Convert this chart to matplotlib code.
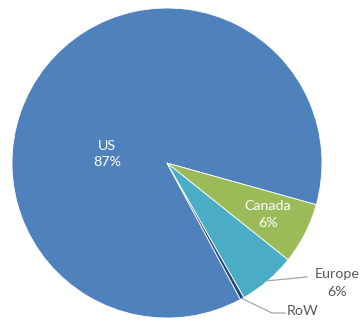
import numpy as np
from matplotlib import pyplot as plt

regions = ["US", "Canada", "Europe", "RoW"]
shares = [87.2, 6.4, 6.0, 0.4]
pct_labels = ["87%", "6%", "6%", ""]
colors = ["#4F81BD", "#9BBB59", "#4BACC6", "#1F497D"]

W, H = 360, 321
CX, CY = 167, 163  # pie centre in pixels (from top-left)
R = 155
START = -61.7

plt.rcParams["font.family"] = ["Lato", "DejaVu Sans"]

fig = plt.figure(figsize=(W / 100, H / 100), dpi=100)
ax = fig.add_axes([0, 0, 1, 1])

wedges, _ = ax.pie(
    shares,
    colors=colors,
    radius=R,
    startangle=START,
    counterclock=False,
    wedgeprops=dict(edgecolor="white", linewidth=0.6),
)

# pie() resets the limits, so set them afterwards (1 unit = 1 pixel)
ax.set_xlim(-CX, W - CX)
ax.set_ylim(-(H - CY), CY)
ax.set_aspect("equal")
ax.axis("off")

grey = "#595959"
fs = 10.3
ls = 1.5

# US: inside, left side
ax.text(-60, 9, f"{regions[0]}\n{pct_labels[0]}", ha="center", va="center",
        color="white", fontsize=fs, linespacing=ls)

# Canada: inside at wedge middle
w = wedges[1]
mid = np.deg2rad((w.theta1 + w.theta2) / 2)
ax.text(0.73 * R * np.cos(mid), 0.73 * R * np.sin(mid),
        f"{regions[1]}\n{pct_labels[1]}", ha="center", va="center",
        color="white", fontsize=fs, linespacing=ls)

# Europe: outside with leader
w = wedges[2]
mid = np.deg2rad((w.theta1 + w.theta2) / 2)
p0 = (R * np.cos(mid), R * np.sin(mid))
ax.plot([p0[0], 140], [p0[1], -114], color="#A6A6A6", lw=0.9)
ax.text(170, -120, f"{regions[2]}\n{pct_labels[2]}", ha="center",
        va="center", color=grey, fontsize=fs, linespacing=ls)

# RoW: outside with leader
w = wedges[3]
mid = np.deg2rad((w.theta1 + w.theta2) / 2)
p0 = (R * np.cos(mid), R * np.sin(mid))
ax.plot([p0[0], 105, 118], [p0[1], -150, -150], color="#A6A6A6", lw=0.9)
ax.text(136, -148, regions[3], ha="center", va="center", color=grey,
        fontsize=fs)

fig.savefig("out.png", dpi=100, facecolor="white")
